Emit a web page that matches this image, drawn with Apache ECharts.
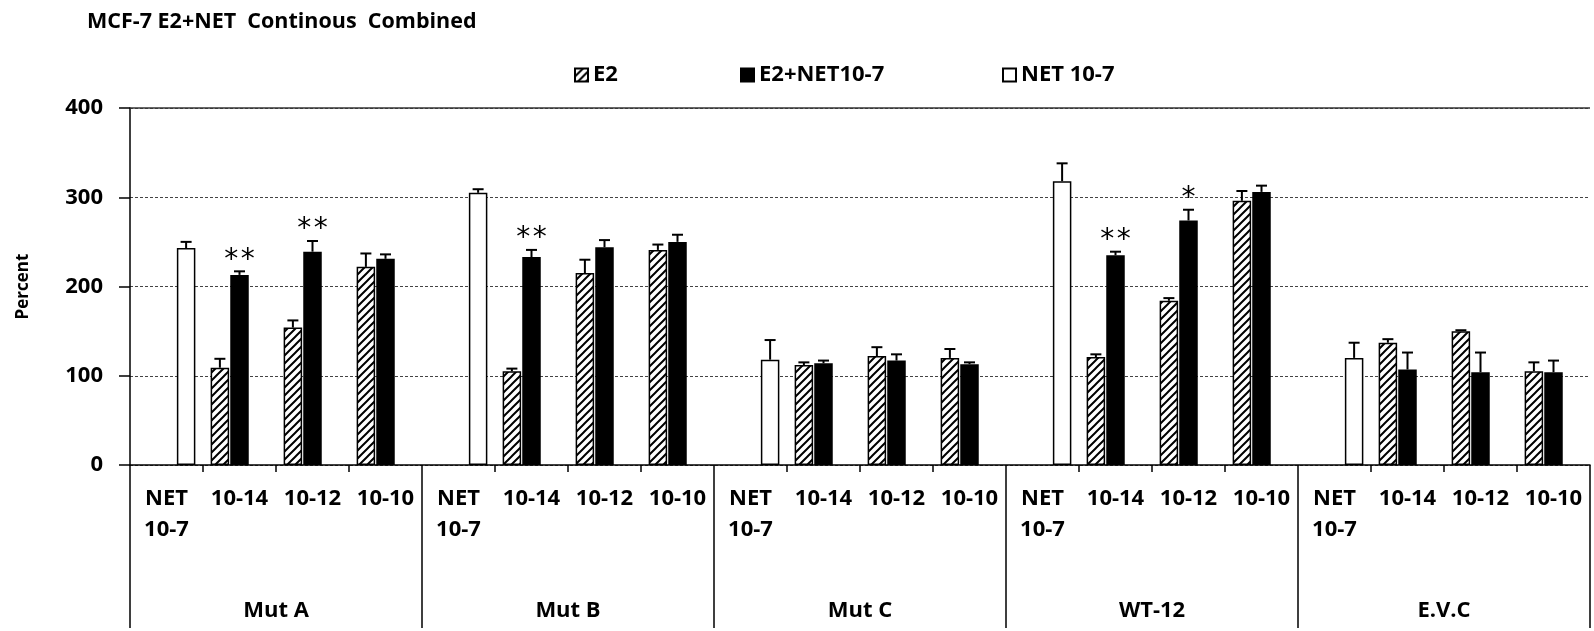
<!DOCTYPE html>
<html>
<head>
<meta charset="utf-8">
<script src="https://cdn.jsdelivr.net/npm/echarts@6/dist/echarts.min.js"></script>
<style>
  html, body { margin: 0; padding: 0; background: #fff; }
  #chart { width: 1594px; height: 631px; }
</style>
</head>
<body>
<div id="chart"></div>
<script>
// Concentration labels within each cell line group
const categories = [
  'NET\n10-7', '10-14', '10-12', '10-10',
  'NET\n10-7', '10-14', '10-12', '10-10',
  'NET\n10-7', '10-14', '10-12', '10-10',
  'NET\n10-7', '10-14', '10-12', '10-10',
  'NET\n10-7', '10-14', '10-12', '10-10'
];
const groups = ['Mut A', 'Mut B', 'Mut C', 'WT-12', 'E.V.C'];
const yTicks = [0, 100, 200, 300, 400];

// Mean percent values
const e2Values = [
  null, 109, 154, 222,
  null, 105, 215, 241,
  null, 112, 122, 120,
  null, 121, 184, 296,
  null, 137, 150, 105
];
const e2NetValues = [
  null, 213, 239, 231,
  null, 233, 244, 250,
  null, 114, 117, 113,
  null, 235, 274, 306,
  null, 107, 104, 104
];
const netValues = [
  243, null, null, null,
  305, null, null, null,
  118, null, null, null,
  318, null, null, null,
  120, null, null, null
];

// Upper error bar sizes
const e2Errors = [
  null, 10, 8, 15,
  null, 3, 15, 6,
  null, 3, 10, 10,
  null, 3, 3, 11,
  null, 4, 1, 10
];
const e2NetErrors = [
  null, 4, 12, 5,
  null, 8, 8, 8,
  null, 3, 7, 2,
  null, 4, 12, 7,
  null, 19, 22, 13
];
const netErrors = [
  7, null, null, null,
  4, null, null, null,
  22, null, null, null,
  20, null, null, null,
  17, null, null, null
];

// Significance marks over the E2+NET bars
const e2NetSignificance = [
  '', '**', '**', '',
  '', '**', '', '',
  '', '', '', '',
  '', '**', '*', '',
  '', '', '', ''
];

const FONT = 'Open Sans';
const BAR_W = 18.5;
const BAR_GAP = 0.06;
const SLOT = BAR_W * (1 + BAR_GAP);

// Diagonal hatch fill for the E2 bars
function makeHatch() {
  const c = document.createElement('canvas');
  c.width = 8; c.height = 8;
  const g = c.getContext('2d');
  g.fillStyle = '#fff';
  g.fillRect(0, 0, 8, 8);
  g.strokeStyle = '#000';
  g.lineWidth = 2;
  g.beginPath();
  g.moveTo(-2, 10); g.lineTo(10, -2);
  g.moveTo(-6, 6); g.lineTo(6, -6);
  g.moveTo(2, 14); g.lineTo(14, 2);
  g.stroke();
  return c;
}
const hatch = { image: makeHatch(), repeat: 'repeat' };

function errData(values, errors) {
  const out = [];
  values.forEach((v, i) => {
    if (v != null && errors[i] != null) out.push([i, v, errors[i]]);
  });
  return out;
}

function errorSeries(values, errors, slotIndex) {
  return {
    type: 'custom',
    silent: true,
    z: 5,
    data: errData(values, errors),
    encode: { x: 0, y: 1 },
    renderItem: function (params, api) {
      const base = api.coord([api.value(0), api.value(1)]);
      const top = api.coord([api.value(0), api.value(1) + api.value(2)]);
      const x = base[0] + slotIndex * SLOT;
      const cap = 5.5;
      return {
        type: 'group',
        children: [
          { type: 'line', shape: { x1: x, y1: base[1], x2: x, y2: top[1] },
            style: { stroke: '#000', lineWidth: 2 } },
          { type: 'line', shape: { x1: x - cap, y1: top[1], x2: x + cap, y2: top[1] },
            style: { stroke: '#000', lineWidth: 2 } }
        ]
      };
    }
  };
}

function starData() {
  const out = [];
  e2NetValues.forEach((v, i) => {
    if (e2NetSignificance[i]) out.push([i, v + (e2NetErrors[i] || 0), e2NetSignificance[i].length]);
  });
  return out;
}

const chart = echarts.init(document.getElementById('chart'), null, { renderer: 'canvas' });

const legendText = { fontFamily: FONT, fontWeight: 'bold', fontSize: 22, color: '#000' };
const legendBase = {
  top: 64, padding: 0, icon: 'rect', itemWidth: 13, itemHeight: 13,
  textStyle: legendText, selectedMode: false
};

const option = {
  animation: false,
  backgroundColor: '#fff',
  title: {
    text: 'MCF-7 E2+NET  Continous  Combined',
    left: 87, top: 11, padding: 0,
    textStyle: { fontFamily: FONT, fontWeight: 'bold', fontSize: 21.5, color: '#000' }
  },
  legend: [
    Object.assign({}, legendBase, { data: ['E2'], left: 574 }),
    Object.assign({}, legendBase, { data: ['E2+NET10-7'], left: 740 }),
    Object.assign({}, legendBase, { data: ['NET 10-7'], left: 1002 })
  ],
  grid: { left: 130, right: 4, top: 108, bottom: 166, outerBoundsMode: 'none' },
  xAxis: [
    {
      type: 'category',
      data: categories,
      position: 'bottom',
      axisLine: { show: true, lineStyle: { color: '#000', width: 1.5 } },
      axisTick: { show: true, length: 7, interval: 0, lineStyle: { color: '#000', width: 1.5 } },
      axisLabel: {
        interval: 0, margin: 18, lineHeight: 31,
        fontFamily: FONT, fontWeight: 'bold', fontSize: 22, color: '#000'
      },
      splitLine: { show: false }
    },
    {
      type: 'category',
      data: groups,
      position: 'bottom',
      axisLine: { show: false },
      axisTick: { show: true, length: 163, interval: 0, lineStyle: { color: '#000', width: 1.5 } },
      axisLabel: {
        interval: 0, margin: 130, lineHeight: 31,
        fontFamily: FONT, fontWeight: 'bold', fontSize: 22, color: '#000'
      },
      splitLine: { show: false }
    }
  ],
  yAxis: {
    type: 'value',
    min: yTicks[0], max: yTicks[yTicks.length - 1], interval: 100,
    name: 'Percent',
    nameLocation: 'middle',
    nameRotate: 90,
    nameGap: 98,
    nameTextStyle: { fontFamily: FONT, fontWeight: 'bold', fontSize: 17, color: '#000' },
    axisLine: { show: true, lineStyle: { color: '#000', width: 1.5 } },
    axisTick: { show: true, length: 11, lineStyle: { color: '#000', width: 1.5 } },
    axisLabel: { margin: 27, fontFamily: FONT, fontWeight: 'bold', fontSize: 22, color: '#000' },
    splitLine: { show: true, lineStyle: { color: '#444', width: 1, type: [3, 2] } }
  },
  series: [
    {
      name: 'E2', type: 'bar', data: e2Values,
      barWidth: BAR_W, barGap: (BAR_GAP * 100) + '%',
      itemStyle: { color: hatch, borderColor: '#000', borderWidth: 1.5 },
      markLine: {
        silent: true, symbol: 'none', label: { show: false },
        lineStyle: { color: '#333', width: 1.5, type: 'solid' },
        data: [{ yAxis: 400 }]
      }
    },
    {
      name: 'E2+NET10-7', type: 'bar', data: e2NetValues,
      barWidth: BAR_W, barGap: (BAR_GAP * 100) + '%',
      itemStyle: { color: '#000', borderColor: '#000', borderWidth: 1.5 }
    },
    {
      name: 'NET 10-7', type: 'bar', data: netValues,
      barWidth: BAR_W, barGap: (BAR_GAP * 100) + '%',
      itemStyle: { color: '#fff', borderColor: '#000', borderWidth: 1.5 }
    },
    errorSeries(e2Values, e2Errors, -1),
    errorSeries(e2NetValues, e2NetErrors, 0),
    errorSeries(netValues, netErrors, 1),
    {
      type: 'custom',
      silent: true,
      z: 6,
      data: starData(),
      encode: { x: 0, y: 1 },
      renderItem: function (params, api) {
        const p = api.coord([api.value(0), api.value(1)]);
        const n = api.value(2);
        const step = 16.7;
        const children = [];
        for (let j = 0; j < n; j++) {
          children.push({
            type: 'text',
            style: {
              text: '*',
              x: p[0] + (j - (n - 1) / 2) * step,
              y: p[1] - 11,
              align: 'center', verticalAlign: 'middle',
              font: '28px "DejaVu Sans"', fill: '#000'
            }
          });
        }
        return { type: 'group', children: children };
      }
    }
  ]
};

chart.setOption(option);
</script>
</body>
</html>
